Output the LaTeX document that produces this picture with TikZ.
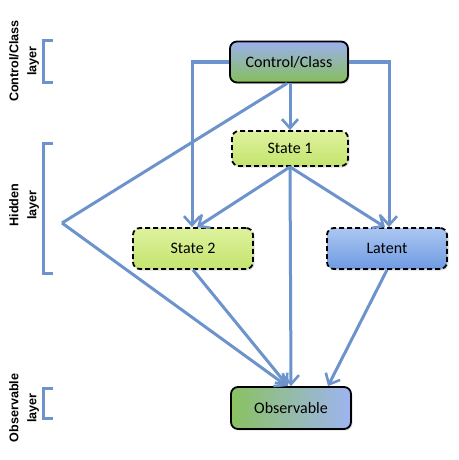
\documentclass[tikz,border=0pt]{standalone}
\usepackage{fontspec}
\setmainfont{Carlito}
\newfontfamily\labelfont{Liberation Sans}
\usetikzlibrary{arrows.meta,shadows}
\definecolor{linkblue}{RGB}{108,147,204}
\definecolor{ctltop}{RGB}{156,176,238}
\definecolor{ctlbot}{RGB}{134,190,92}
\definecolor{sttop}{RGB}{222,242,158}
\definecolor{stbot}{RGB}{196,228,110}
\definecolor{lattop}{RGB}{172,198,242}
\definecolor{latbot}{RGB}{110,155,226}
\definecolor{obsleft}{RGB}{138,194,96}
\definecolor{obsright}{RGB}{158,180,242}
\begin{document}
\begin{tikzpicture}[x=1pt,y=-1pt,
  box/.style={draw=black,line width=1.8pt,rounded corners=7pt,
    minimum width=118pt,minimum height=41pt,inner sep=0pt,
    font=\fontsize{16}{18}\selectfont,
    drop shadow={shadow xshift=1.5pt,shadow yshift=-1.5pt,opacity=0.25}},
  hidbox/.style={box,dashed,dash pattern=on 5pt off 3pt},
  link/.style={draw=linkblue,line width=3pt,
    -{Straight Barb[length=9pt,width=16pt,line width=2.6pt]}},
  brace/.style={draw=linkblue,line width=3pt},
  layerlabel/.style={rotate=90,align=center,
    font=\labelfont\bfseries\fontsize{12.6}{18}\selectfont}]
\useasboundingbox (0,0) rectangle (458,460);

% layer nodes
\node[box,top color=ctltop,bottom color=ctlbot] (ctl) at (289,62) {Control/Class};
\node[hidbox,top color=sttop,bottom color=stbot,minimum width=116pt,minimum height=35pt] (s1) at (290,148.5) {State 1};
\node[hidbox,top color=sttop,bottom color=stbot,minimum width=120pt] (s2) at (193,248.5) {State 2};
\node[hidbox,top color=lattop,bottom color=latbot,minimum width=120pt] (lat) at (387,248.5) {Latent};
\node[box,left color=obsleft,right color=obsright,minimum width=120pt,minimum height=42pt] (obs) at (291,408) {Observable};

\coordinate (apex) at (62,223);

% connectors
\draw[link] (ctl.west) -| ([xshift=-1pt]s2.north);
\draw[link] (ctl.east) -| ([xshift=2pt]lat.north);
\draw[link] ([xshift=1pt]ctl.south) -- (s1.north);
\draw[link,-] ([xshift=-2pt]ctl.south) -- (apex);
\draw[link] (apex) -- ([xshift=-4pt]obs.north);
\draw[link] (s1.south) -- ([xshift=4pt]s2.north);
\draw[link] (s1.south) -- ([xshift=-2pt]lat.north);
\draw[link] (s1.south) -- (obs.north);
\draw[link] (s2.south) -- ([xshift=-3pt]obs.north);
\draw[link] (lat.south) -- ([xshift=37pt]obs.north);

% layer brackets
\draw[brace] (53,41) -- (43,41) -- (43,82) -- (53,82);
\draw[brace] (53,143) -- (43,143) -- (43,273) -- (53,273);
\draw[brace] (53,388) -- (43,388) -- (43,418) -- (53,418);

% layer labels
\node[layerlabel] (lctl) at (24,61) {Control/Class\\layer};
\node[layerlabel] (lhid) at (24,205) {Hidden\\layer};
\node[layerlabel] (lobs) at (24,408) {Observable\\layer};
\end{tikzpicture}
\end{document}
